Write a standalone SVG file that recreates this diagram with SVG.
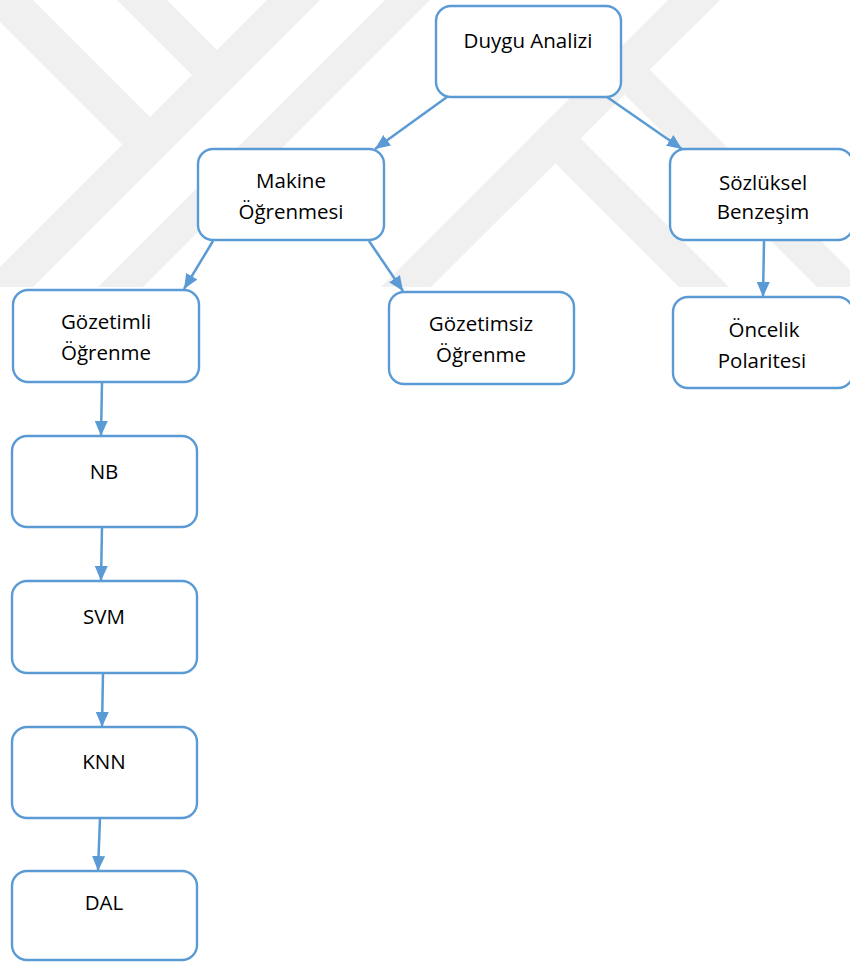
<svg xmlns="http://www.w3.org/2000/svg" width="850" height="962" viewBox="0 0 850 962">
<style>
.box{fill:#fff;stroke:#5B9BD5;stroke-width:2.4}
.lbl{font-family:"Open Sans","Noto Sans","Liberation Sans",sans-serif;font-size:20.5px;fill:#000;text-anchor:middle}
.con{stroke:#5B9BD5;stroke-width:2.5;fill:none;marker-end:url(#ah)}
.wm{fill:#f0f0f0}
</style>
<defs>
<marker id="ah" markerUnits="userSpaceOnUse" markerWidth="15" markerHeight="13" refX="15" refY="6.5" orient="auto">
<path d="M0,0 L15,6.5 L0,13 z" fill="#5B9BD5"/>
</marker>
<clipPath id="wmclip"><rect x="0" y="0" width="850" height="287"/></clipPath>
</defs>
<rect width="850" height="962" fill="#fff"/>
<g id="watermark" clip-path="url(#wmclip)">
<polygon class="wm" points="0,0 33,0 150,117 122.5,144.5 0,22"/>
<polygon class="wm" points="117,0 167,0 217,50 192,75"/>
<polygon class="wm" points="267,0 320,0 33,287 0,287 0,267"/>
<polygon class="wm" points="385,0 430,0 143,287 98,287"/>
<polygon class="wm" points="668,0 720,0 431,287 381,287"/>
<polygon class="wm" points="555,113 580,138 729,287 679,287 555,163 530,138"/>
<polygon class="wm" points="600,70 625,95 817,287 867,287 650,70 625,45"/>
</g>
<g id="connectors">
<line class="con" x1="447" y1="97" x2="375" y2="149"/>
<line class="con" x1="607" y1="97" x2="682" y2="149"/>
<line class="con" x1="213" y1="241" x2="184" y2="289"/>
<line class="con" x1="369" y1="241" x2="403" y2="291"/>
<line class="con" x1="764" y1="241" x2="763" y2="297"/>
<line class="con" x1="102" y1="382" x2="101" y2="436"/>
<line class="con" x1="102" y1="526" x2="101" y2="581"/>
<line class="con" x1="103" y1="673" x2="102" y2="727"/>
<line class="con" x1="100" y1="818" x2="98" y2="871"/>
</g>
<g id="duygu"><rect class="box" x="436" y="6" width="185" height="91" rx="15"/><text class="lbl" x="528" y="48">Duygu Analizi</text></g>
<g id="makine"><rect class="box" x="198" y="149" width="186" height="91" rx="15"/><text class="lbl" x="291" y="188">Makine</text><text class="lbl" x="291" y="219">Öğrenmesi</text></g>
<g id="sozluksel"><rect class="box" x="670" y="149" width="183" height="91" rx="15"/><text class="lbl" x="763" y="190">Sözlüksel</text><text class="lbl" x="763" y="219">Benzeşim</text></g>
<g id="gozetimli"><rect class="box" x="13" y="290" width="186" height="92" rx="15"/><text class="lbl" x="106" y="329">Gözetimli</text><text class="lbl" x="106" y="360">Öğrenme</text></g>
<g id="gozetimsiz"><rect class="box" x="389" y="292" width="185" height="92" rx="15"/><text class="lbl" x="481" y="331">Gözetimsiz</text><text class="lbl" x="481" y="362">Öğrenme</text></g>
<g id="oncelik"><rect class="box" x="673" y="297" width="180" height="91" rx="15"/><text class="lbl" x="764" y="337">Öncelik</text><text class="lbl" x="762" y="368">Polaritesi</text></g>
<g id="nb"><rect class="box" x="12" y="436" width="185" height="91" rx="15"/><text class="lbl" x="104" y="479">NB</text></g>
<g id="svm"><rect class="box" x="12" y="581" width="185" height="92" rx="15"/><text class="lbl" x="104" y="624">SVM</text></g>
<g id="knn"><rect class="box" x="12" y="727" width="185" height="91" rx="15"/><text class="lbl" x="104" y="769">KNN</text></g>
<g id="dal"><rect class="box" x="12" y="871" width="185" height="89" rx="15"/><text class="lbl" x="104" y="910">DAL</text></g>
</svg>
